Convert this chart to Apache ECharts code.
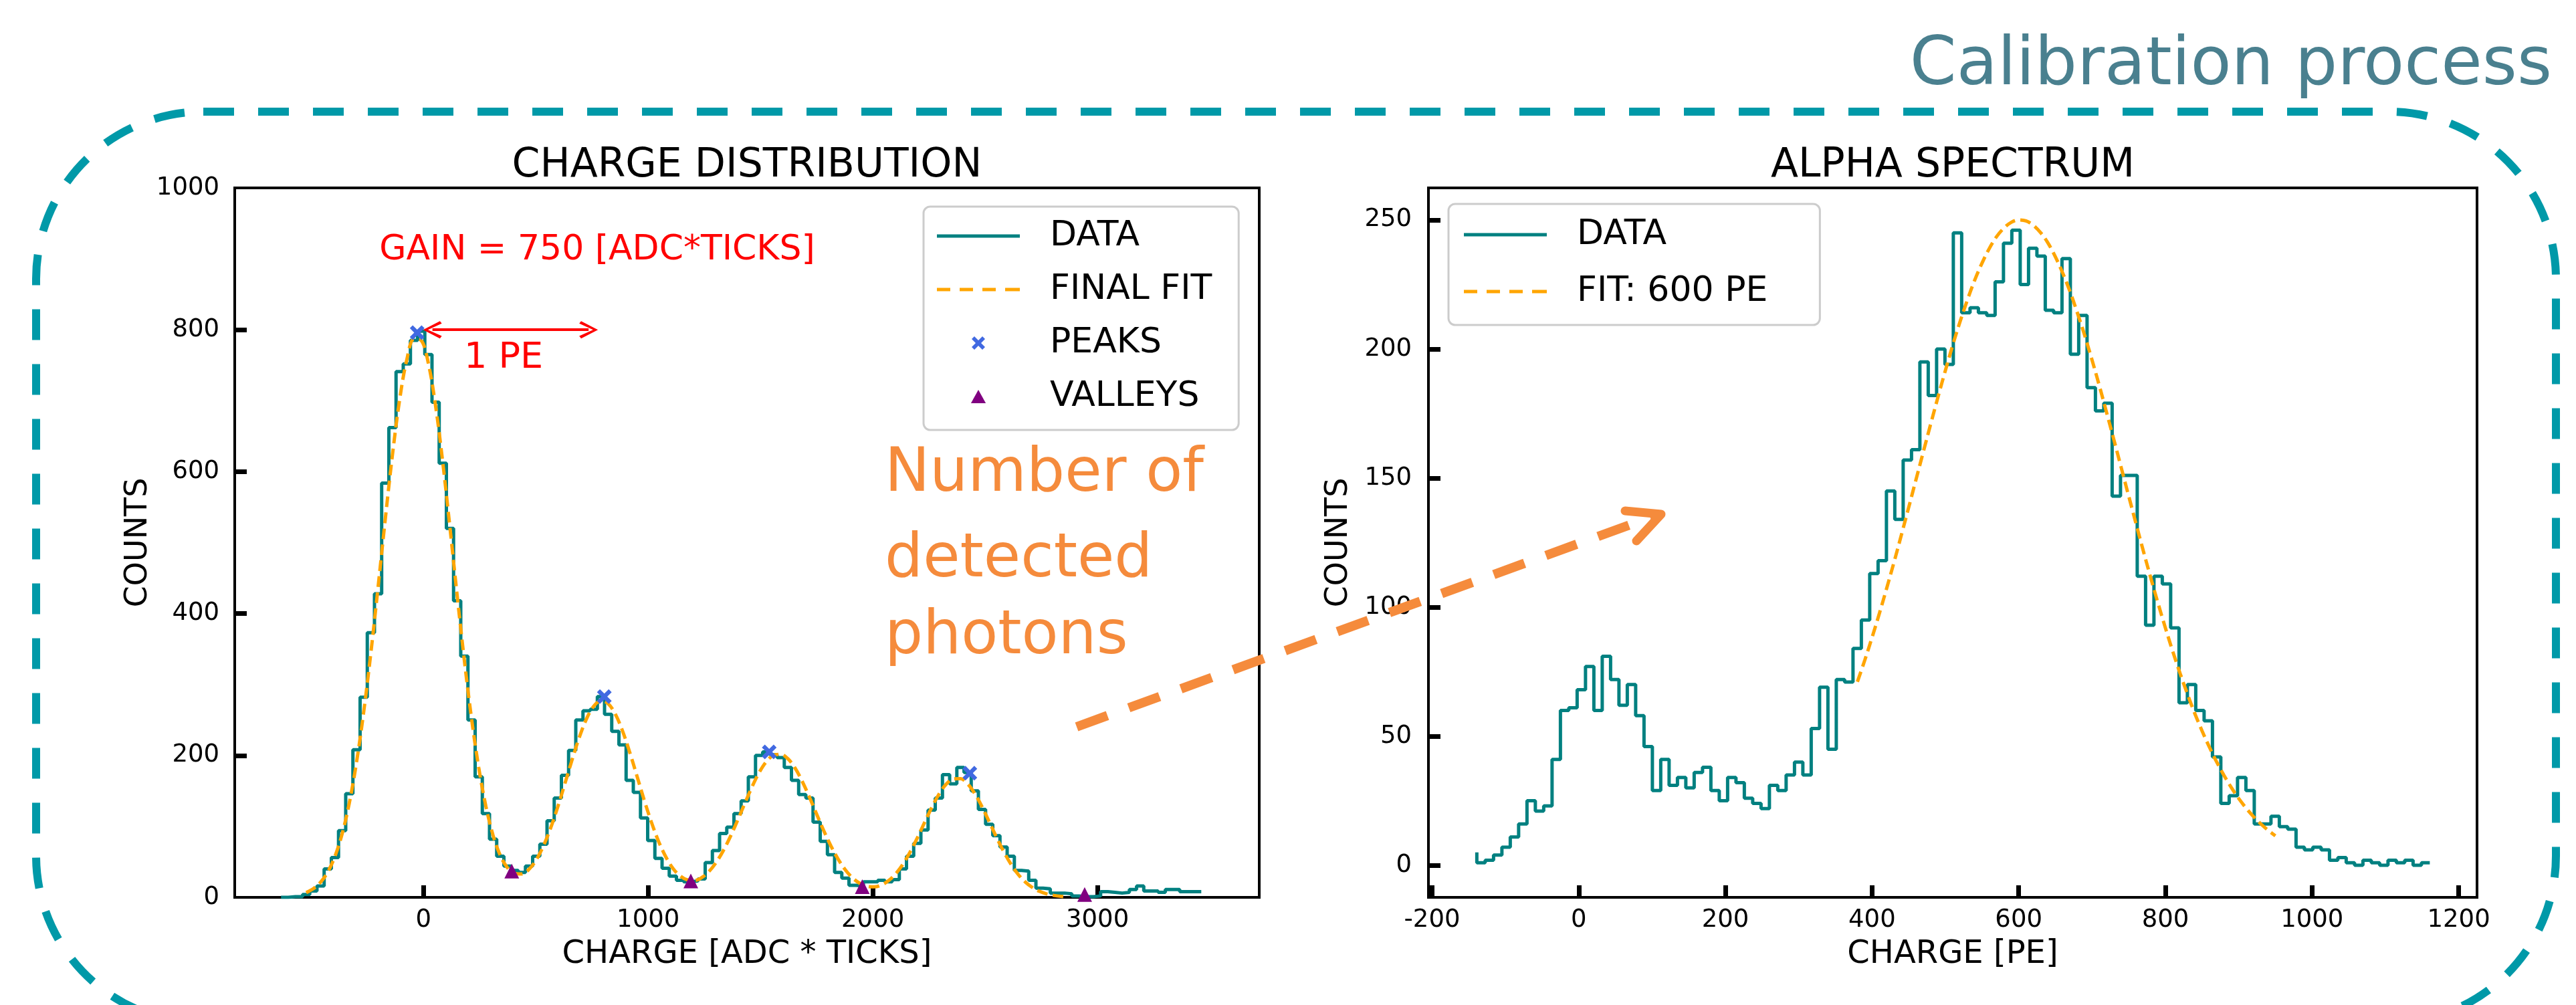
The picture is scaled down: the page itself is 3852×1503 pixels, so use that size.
<!DOCTYPE html>
<html>
<head>
<meta charset="utf-8">
<script src="https://cdn.jsdelivr.net/npm/echarts@6/dist/echarts.min.js"></script>
<style>
html,body{margin:0;padding:0;background:#fff;}
#chart{width:3852px;height:1503px;}
</style>
</head>
<body>
<div id="chart"></div>
<script>
// ---------- DATA ----------
// Left panel: charge distribution histogram (bin edges start / width, counts per bin)
const leftBinStart = -634;
const leftBinWidth = 32;
const leftCounts = [
  0, 1, 1, 4, 9, 16, 40, 56, 94, 146,
  208, 282, 373, 428, 584, 662, 741, 752, 785, 798,
  765, 698, 612, 520, 418, 340, 250, 170, 118, 82,
  58, 44, 38, 35, 44, 58, 75, 108, 140, 172,
  207, 250, 263, 265, 283, 258, 234, 215, 165, 148,
  112, 80, 55, 41, 30, 24, 22, 23, 26, 49,
  66, 90, 99, 118, 136, 170, 200, 205, 201, 197,
  183, 165, 145, 140, 106, 79, 60, 35, 27, 17,
  16, 22, 22, 24, 22, 25, 40, 58, 76, 95,
  123, 140, 173, 160, 183, 176, 150, 124, 103, 87,
  71, 58, 38, 37, 24, 13, 12, 6, 6, 5,
  2, 1, 1, 2, 8, 7, 6, 7, 11, 16,
  9, 9, 7, 11, 11, 8, 8, 8
];
// Left panel: final fit samples
const leftFitStart = -522;
const leftFitStep = 32;
const leftFit = [
  6.7, 12.2, 21.3, 35.8, 57.7, 89.4, 133.0, 190.2, 261.3, 344.9,
  437.3, 532.9, 623.7, 701.5, 758.0, 787.0, 785.0, 752.4, 692.7, 612.9,
  521.0, 425.5, 334.1, 252.0, 183.0, 128.2, 87.3, 59.1, 41.7, 33.4,
  33.0, 39.6, 52.9, 72.5, 97.7, 127.7, 160.8, 194.4, 225.8, 251.8,
  269.5, 276.9, 273.0, 258.4, 234.6, 204.6, 171.3, 137.7, 106.5, 79.3,
  57.5, 41.1, 30.3, 24.7, 23.9, 27.8, 36.1, 48.8, 65.5, 85.7,
  108.3, 132.3, 155.4, 175.8, 191.2, 200.2, 201.6, 195.4, 182.2, 163.5,
  141.2, 117.3, 93.7, 72.2, 53.7, 38.7, 27.4, 19.8, 15.6, 14.8,
  17.4, 23.5, 33.3, 46.8, 63.9, 83.7, 105.3, 126.5, 145.2, 159.3,
  166.9, 167.2, 160.0, 146.2, 127.8, 106.6, 85.1, 64.8, 47.2, 32.8,
  21.8, 13.9, 8.4, 4.9, 2.7, 1.4, 0.7
];
const leftPeaks = [[-28, 796], [805, 283], [1539, 205], [2432, 175]];
const leftValleys = [[393, 37], [1190, 23], [1953, 15], [2943, 4]];
const gainArrow = [[40, 800], [735, 800]];
const leftXTicks = [0, 1000, 2000, 3000];
const leftYTicks = [0, 200, 400, 600, 800, 1000];

// Right panel: alpha spectrum histogram
const rightBinStart = -139;
const rightBinWidth = 11.4;
const rightFirstLevel = 5;
const rightCounts = [
  1, 2, 4, 7, 11, 16, 25, 21, 23, 41,
  60, 61, 68, 77, 60, 81, 72, 62, 70, 58,
  46, 29, 41, 31, 34, 30, 36, 38, 29, 25,
  34, 32, 26, 24, 22, 31, 29, 35, 40, 35,
  53, 69, 45, 72, 71, 84, 95, 113, 118, 145,
  134, 157, 161, 195, 182, 200, 194, 245, 214, 216,
  214, 213, 226, 241, 246, 225, 239, 236, 215, 214,
  235, 198, 213, 185, 176, 179, 143, 151, 151, 112,
  93, 112, 109, 92, 63, 70, 60, 56, 42, 24,
  27, 34, 29, 16, 16, 19, 15, 14, 7, 6,
  7, 6, 2, 3, 1, 0, 2, 1, 0, 2,
  1, 2, 0, 1
];
const rightFitStart = 380;
const rightFitStep = 10;
const rightFit = [
  71.1, 79.4, 88.3, 97.6, 107.4, 117.5, 128.0, 138.7, 149.5, 160.3,
  171.0, 181.5, 191.7, 201.5, 210.6, 219.0, 226.7, 233.3, 239.0, 243.6,
  246.9, 249.1, 250.0, 249.6, 247.9, 245.0, 241.0, 235.7, 229.4, 222.2,
  214.0, 205.2, 195.7, 185.7, 175.2, 164.6, 153.8, 143.0, 132.3, 121.7,
  111.4, 101.5, 92.0, 82.9, 74.4, 66.4, 58.9, 52.1, 45.8, 40.0,
  34.8, 30.1, 25.9, 22.2, 18.9, 16.1, 13.6, 11.4
];
const rightXTicks = [-200, 0, 200, 400, 600, 800, 1000, 1200];
const rightYTicks = [0, 50, 100, 150, 200, 250];

// ---------- BUILD ----------
function histPoints(start, width, counts, firstLevel) {
  const pts = [];
  if (firstLevel !== undefined) pts.push([start, firstLevel]);
  counts.forEach((c, i) => pts.push([start + i * width, c]));
  pts.push([start + counts.length * width, counts[counts.length - 1]]);
  return pts;
}
function samplePoints(start, step, vals) {
  return vals.map((v, i) => [start + i * step, v]);
}

const FONT = "'Humor Sans', 'DejaVu Sans', sans-serif";
const HAND = "'DejaVu Sans', sans-serif";
const TEAL = '#008080';
const ORANGE = '#FFA500';
const XMARK = 'path://M2,0 L5,3 L8,0 L10,2 L7,5 L10,8 L8,10 L5,7 L2,10 L0,8 L3,5 L0,2 Z';
const TRI = 'path://M5,0 L10,9 L0,9 Z';
const CHEVRON = 'path://M0,9 L5,0 L10,9 L8.6,10 L5,2.6 L1.4,10 Z';
const SOLID_ICON = 'path://M0,0 L124,0 L124,5 L0,5 Z';
const DASH_ICON = 'path://M0,0 L20,0 L20,5 L0,5 Z M34,0 L54,0 L54,5 L34,5 Z M68,0 L88,0 L88,5 L68,5 Z M102,0 L124,0 L124,5 L102,5 Z';
const fmt = v => String(v);

function valueAxisX(gridIndex, min, max, ticks, name) {
  return {
    type: 'value', gridIndex, min, max, position: 'bottom',
    name, nameLocation: 'middle', nameGap: 62,
    nameTextStyle: { fontFamily: FONT, fontSize: 48, color: '#000' },
    axisLine: { show: true, onZero: false, lineStyle: { color: '#000', width: 4 } },
    axisTick: { show: true, inside: true, length: 18, customValues: ticks,
      lineStyle: { color: '#000', width: 7 } },
    axisLabel: { customValues: ticks, formatter: fmt, margin: 16, fontFamily: FONT, fontSize: 37, color: '#000' },
    splitLine: { show: false }
  };
}
function valueAxisY(gridIndex, min, max, ticks, tickMarks, gap, margin) {
  return {
    type: 'value', gridIndex, min, max, position: 'left',
    name: 'COUNTS', nameLocation: 'middle', nameGap: gap, nameRotate: 90,
    nameTextStyle: { fontFamily: FONT, fontSize: 46, color: '#000' },
    axisLine: { show: true, onZero: false, lineStyle: { color: '#000', width: 4 } },
    axisTick: { show: true, inside: true, length: 18, customValues: tickMarks,
      lineStyle: { color: '#000', width: 7 } },
    axisLabel: { customValues: ticks, formatter: fmt, margin, fontFamily: FONT, fontSize: 37, color: '#000' },
    splitLine: { show: false }
  };
}

const legendBase = {
  orient: 'vertical', itemWidth: 124, itemHeight: 20,
  borderColor: '#cccccc', borderWidth: 3, borderRadius: 10,
  backgroundColor: 'rgba(255,255,255,0.85)',
  symbolKeepAspect: true,
  textStyle: { fontFamily: FONT, fontSize: 52, color: '#000', lineHeight: 60, padding: [0, 0, 0, 40] },
  selectedMode: false
};

const option = {
  backgroundColor: '#ffffff',
  animation: false,
  grid: [
    { left: 351, top: 281, width: 1532, height: 1061, show: true, borderColor: '#000', borderWidth: 4, backgroundColor: 'transparent' },
    { left: 2136, top: 281, width: 1568, height: 1061, show: true, borderColor: '#000', borderWidth: 4, backgroundColor: 'transparent' }
  ],
  xAxis: [
    valueAxisX(0, -840, 3720, leftXTicks, 'CHARGE [ADC * TICKS]'),
    valueAxisX(1, -205, 1225, rightXTicks, 'CHARGE [PE]')
  ],
  yAxis: [
    valueAxisY(0, 0, 1000, leftYTicks, [200, 400, 600, 800], 121, 23),
    valueAxisY(1, -12.4, 262.4, rightYTicks, rightYTicks, 111, 25)
  ],
  legend: [
    Object.assign({}, legendBase, { left: 1381, top: 309, itemGap: 20, padding: [14, 40, 20, 20],
      data: [
        { name: 'DATA', icon: SOLID_ICON },
        { name: 'FINAL FIT', icon: DASH_ICON },
        { name: 'PEAKS', icon: XMARK },
        { name: 'VALLEYS', icon: TRI }
      ] }),
    Object.assign({}, legendBase, { left: 2166, top: 305, itemGap: 25, padding: [16, 78, 20, 23],
      data: [
        { name: 'DATA', icon: SOLID_ICON },
        { name: 'FIT: 600 PE', icon: DASH_ICON }
      ] })
  ],
  series: [
    { name: 'DATA', type: 'line', xAxisIndex: 0, yAxisIndex: 0, step: 'end',
      data: histPoints(leftBinStart, leftBinWidth, leftCounts),
      symbol: 'none', lineStyle: { color: TEAL, width: 5 }, itemStyle: { color: TEAL }, z: 3 },
    { name: 'FINAL FIT', type: 'line', xAxisIndex: 0, yAxisIndex: 0, smooth: 0.35,
      data: samplePoints(leftFitStart, leftFitStep, leftFit),
      symbol: 'none', lineStyle: { color: ORANGE, width: 5, type: [16, 8] }, itemStyle: { color: ORANGE }, z: 4 },
    { name: 'PEAKS', type: 'scatter', xAxisIndex: 0, yAxisIndex: 0, data: leftPeaks,
      symbol: XMARK, symbolSize: 22, itemStyle: { color: '#4169E1', opacity: 1 }, z: 6,
      markLine: { silent: true, symbol: [CHEVRON, CHEVRON], symbolSize: [26, 28],
        lineStyle: { color: '#ff0000', width: 4, type: 'solid' },
        itemStyle: { color: '#ff0000' },
        label: { show: false },
        data: [[{ coord: gainArrow[0] }, { coord: gainArrow[1] }]] } },
    { name: 'VALLEYS', type: 'scatter', xAxisIndex: 0, yAxisIndex: 0, data: leftValleys,
      symbol: TRI, symbolSize: 22, itemStyle: { color: '#800080', opacity: 1 }, z: 6 },
    { name: 'DATA', type: 'line', xAxisIndex: 1, yAxisIndex: 1, step: 'end',
      data: histPoints(rightBinStart, rightBinWidth, rightCounts, rightFirstLevel),
      symbol: 'none', lineStyle: { color: TEAL, width: 5 }, itemStyle: { color: TEAL }, z: 3 },
    { name: 'FIT: 600 PE', type: 'line', xAxisIndex: 1, yAxisIndex: 1, smooth: 0.35,
      data: samplePoints(rightFitStart, rightFitStep, rightFit),
      symbol: 'none', lineStyle: { color: ORANGE, width: 5, type: [16, 8] }, itemStyle: { color: ORANGE }, z: 4 }
  ],
  graphic: [
    { type: 'rect', silent: true, z: -10,
      shape: { x: 54, y: 167, width: 3768, height: 1363, r: 250 },
      style: { fill: 'none', stroke: '#0099a8', lineWidth: 12, lineDash: [46, 36] } },
    { type: 'text', silent: true, x: 3816, y: 100,
      style: { text: 'Calibration process', align: 'right', verticalAlign: 'middle',
        fontFamily: HAND, fontSize: 100, fill: '#4a808f' } },
    { type: 'text', silent: true, x: 1117, y: 248,
      style: { text: 'CHARGE DISTRIBUTION', align: 'center', verticalAlign: 'middle',
        fontFamily: FONT, fontSize: 60, fill: '#000' } },
    { type: 'text', silent: true, x: 2920, y: 248,
      style: { text: 'ALPHA SPECTRUM', align: 'center', verticalAlign: 'middle',
        fontFamily: FONT, fontSize: 60, fill: '#000' } },
    { type: 'text', silent: true, x: 893, y: 374,
      style: { text: 'GAIN = 750 [ADC*TICKS]', align: 'center', verticalAlign: 'middle',
        fontFamily: FONT, fontSize: 52, fill: '#ff0000' } },
    { type: 'text', silent: true, x: 753, y: 536,
      style: { text: '1 PE', align: 'center', verticalAlign: 'middle',
        fontFamily: FONT, fontSize: 54, fill: '#ff0000' } },
    { type: 'text', silent: true, x: 1323, y: 711, z: 20,
      style: { text: 'Number of', align: 'left', verticalAlign: 'middle',
        fontFamily: HAND, fontSize: 90, fill: '#f58b3c' } },
    { type: 'text', silent: true, x: 1323, y: 839, z: 20,
      style: { text: 'detected', align: 'left', verticalAlign: 'middle',
        fontFamily: HAND, fontSize: 90, fill: '#f58b3c' } },
    { type: 'text', silent: true, x: 1323, y: 954, z: 20,
      style: { text: 'photons', align: 'left', verticalAlign: 'middle',
        fontFamily: HAND, fontSize: 90, fill: '#f58b3c' } },
    { type: 'line', silent: true, z: 20,
      shape: { x1: 1610, y1: 1087, x2: 2478, y2: 770 },
      style: { stroke: '#f58b3c', lineWidth: 14, lineDash: [49, 34] } },
    { type: 'polyline', silent: true, z: 20,
      shape: { points: [[2430, 764], [2484, 769], [2447, 809]] },
      style: { stroke: '#f58b3c', lineWidth: 13, fill: 'none', lineCap: 'round', lineJoin: 'round' } }
  ]
};

const chart = echarts.init(document.getElementById('chart'), null, { renderer: 'canvas' });
chart.setOption(option);
</script>
</body>
</html>
